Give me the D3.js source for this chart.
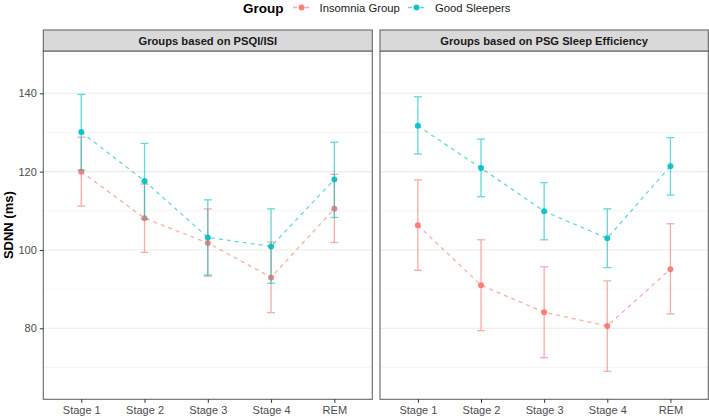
<!DOCTYPE html>
<html><head><meta charset="utf-8">
<script src="https://cdn.jsdelivr.net/npm/d3@7"></script>
<style>body{margin:0;background:#fff;font-family:"Liberation Sans",Arial,Helvetica,sans-serif;}</style>
</head><body><div id="chart"></div>
<script>
const stages = ["Stage 1","Stage 2","Stage 3","Stage 4","REM"];
const panels = ["Groups based on PSQI/ISI","Groups based on PSG Sleep Efficiency"];
const groups = ["Insomnia Group","Good Sleepers"];
const colors = ["#F8766D","#00BFC4"];
const yMajorTicks = [80,100,120,140];
const yMinorTicks = [70,90,110,130,150];

// PSQI/ISI panel
const psqiInsMean = [120.0,108.1,101.8,93.0,110.5];
const psqiInsLow  = [111.2,99.4,93.3,84.0,101.9];
const psqiInsHigh = [128.8,116.8,110.5,102.0,119.3];
const psqiGoodMean = [130.1,117.6,103.2,100.9,118.0];
const psqiGoodLow  = [120.4,108.0,93.6,91.5,108.3];
const psqiGoodHigh = [139.7,127.2,112.8,110.5,127.5];
// PSG Sleep Efficiency panel
const psgInsMean = [106.3,91.0,84.1,80.6,95.1];
const psgInsLow  = [94.8,79.4,72.5,69.0,83.7];
const psgInsHigh = [117.9,102.6,95.7,92.1,106.7];
const psgGoodMean = [131.7,120.9,109.9,103.0,121.4];
const psgGoodLow  = [124.5,113.6,102.6,95.5,114.0];
const psgGoodHigh = [139.1,128.3,117.2,110.5,128.7];

const panelData = [
  [{mean:psqiInsMean,low:psqiInsLow,high:psqiInsHigh},{mean:psqiGoodMean,low:psqiGoodLow,high:psqiGoodHigh}],
  [{mean:psgInsMean,low:psgInsLow,high:psgInsHigh},{mean:psgGoodMean,low:psgGoodLow,high:psgGoodHigh}]
];

const W=709,H=419;
const svg=d3.select("#chart").append("svg").attr("width",W).attr("height",H);
const panelX=[[43.3,372.3],[380,708.3]];
const stripTop=30, plotTop=51, plotBottom=399.3;
const y=d3.scaleLinear().domain([80,140]).range([328.3,93.3]);

panels.forEach((title,pi)=>{
  const [x0,x1]=panelX[pi];
  const x=d3.scalePoint().domain(stages).range([x0,x1]).padding(0.6);
  const g=svg.append("g");
  g.selectAll("line.minor").data(yMinorTicks.filter(v=>y(v)>plotTop&&y(v)<plotBottom)).enter().append("line")
    .attr("x1",x0).attr("x2",x1).attr("y1",d=>y(d)).attr("y2",d=>y(d))
    .attr("stroke","#F2F2F2").attr("stroke-width",0.7);
  g.selectAll("line.major").data(yMajorTicks).enter().append("line")
    .attr("x1",x0).attr("x2",x1).attr("y1",d=>y(d)).attr("y2",d=>y(d))
    .attr("stroke","#EBEBEB").attr("stroke-width",1.1);
  panelData[pi].forEach((s,gi)=>{
    const col=colors[gi];
    const pts=stages.map((st,i)=>({st,m:s.mean[i],lo:s.low[i],hi:s.high[i]}));
    const eb=g.append("g").attr("opacity",0.6).attr("stroke",col).attr("stroke-width",1.3).attr("fill","none");
    pts.forEach(p=>{
      const cx=x(p.st);
      eb.append("line").attr("x1",cx).attr("x2",cx).attr("y1",y(p.lo)).attr("y2",y(p.hi));
      eb.append("line").attr("x1",cx-4).attr("x2",cx+4).attr("y1",y(p.lo)).attr("y2",y(p.lo));
      eb.append("line").attr("x1",cx-4).attr("x2",cx+4).attr("y1",y(p.hi)).attr("y2",y(p.hi));
    });
    g.append("path").datum(pts)
      .attr("d",d3.line().x(p=>x(p.st)).y(p=>y(p.m)))
      .attr("fill","none").attr("stroke",col).attr("stroke-width",1.3)
      .attr("stroke-dasharray","4,4").attr("opacity",0.6);
    g.selectAll(null).data(pts).enter().append("circle")
      .attr("cx",p=>x(p.st)).attr("cy",p=>y(p.m)).attr("r",3)
      .attr("fill",col).attr("opacity",0.9);
  });
  g.append("rect").attr("x",x0).attr("y",plotTop).attr("width",x1-x0).attr("height",plotBottom-plotTop)
    .attr("fill","none").attr("stroke","#666").attr("stroke-width",1.1);
  g.append("rect").attr("x",x0).attr("y",stripTop).attr("width",x1-x0).attr("height",plotTop-stripTop)
    .attr("fill","#D9D9D9").attr("stroke","#666").attr("stroke-width",1.1);
  g.append("text").attr("x",(x0+x1)/2).attr("y",(stripTop+plotTop)/2+4)
    .attr("text-anchor","middle").attr("font-size",11.2).attr("font-weight","bold").attr("fill","#1A1A1A").text(title);
  const xa=svg.append("g").attr("transform",`translate(0,${plotBottom})`)
    .call(d3.axisBottom(x).tickSize(3.5).tickPadding(3));
  xa.select(".domain").remove();
  xa.selectAll(".tick line").attr("stroke","#333");
  xa.selectAll(".tick text").attr("font-size",11).attr("fill","#4D4D4D").attr("font-family","Liberation Sans, Arial, sans-serif");
});

const ya=svg.append("g").attr("transform",`translate(${panelX[0][0]},0)`)
  .call(d3.axisLeft(y).tickValues(yMajorTicks).tickSize(3.5).tickPadding(3));
ya.select(".domain").remove();
ya.selectAll(".tick line").attr("stroke","#333");
ya.selectAll(".tick text").attr("font-size",11).attr("fill","#4D4D4D").attr("font-family","Liberation Sans, Arial, sans-serif");

svg.append("text").attr("transform",`translate(13,${(plotTop+plotBottom)/2}) rotate(-90)`)
  .attr("text-anchor","middle").attr("font-size",13).attr("font-weight","bold").attr("fill","#000").text("SDNN (ms)");

const leg=svg.append("g");
leg.append("text").attr("x",243).attr("y",12.5).attr("font-size",13.5).attr("font-weight","bold").attr("fill","#000").text("Group");
const legX=[[293,319.5],[408,435]];
groups.forEach((gname,i)=>{
  const [kx,tx]=legX[i];
  leg.append("line").attr("x1",kx).attr("x2",kx+16).attr("y1",7.5).attr("y2",7.5)
    .attr("stroke",colors[i]).attr("stroke-width",1.3).attr("stroke-dasharray","4,2").attr("opacity",0.6);
  leg.append("circle").attr("cx",kx+8.5).attr("cy",7.5).attr("r",3).attr("fill",colors[i]).attr("opacity",0.9);
  leg.append("text").attr("x",tx).attr("y",11.8).attr("font-size",11.3).attr("fill","#1A1A1A").text(gname);
});
</script></body></html>
